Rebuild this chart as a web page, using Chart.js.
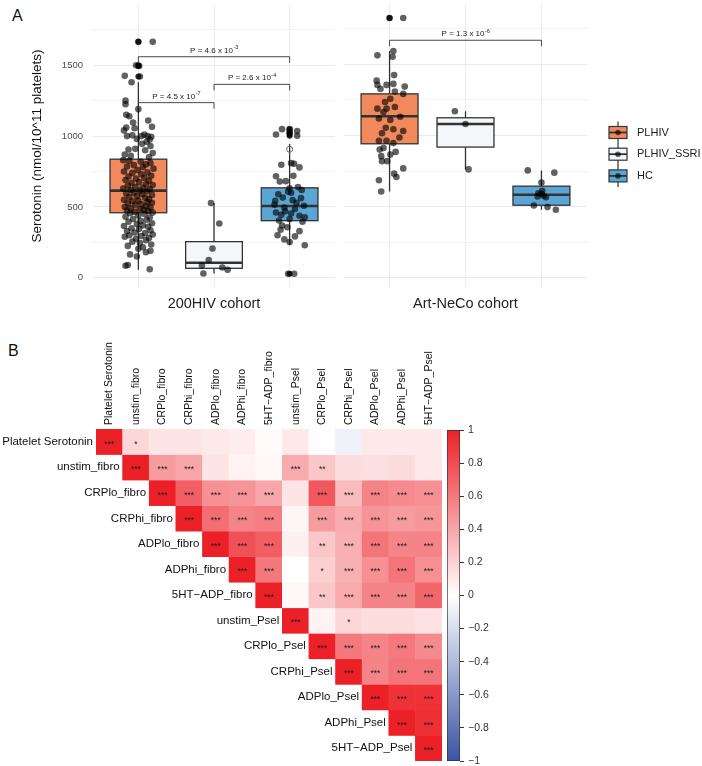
<!DOCTYPE html>
<html>
<head>
<meta charset="utf-8">
<script src="https://cdn.jsdelivr.net/npm/chart.js@4.4.1/dist/chart.umd.min.js"></script>
<style>
    body { margin: 0; background: #fff; font-family: 'Liberation Sans', Arial, Helvetica, sans-serif; }
    #wrap { position: relative; width: 702px; height: 766px; overflow: hidden; }
    canvas { position: absolute; }
    .panel { position: absolute; font-size: 16px; line-height: 16px; color: #111; }
</style>
</head>
<body>
<div id="wrap">
    <div class="panel" style="left:12px;top:8px">A</div>
    <div class="panel" style="left:8px;top:343px">B</div>
    <canvas id="boxA1" width="340" height="320" style="left:0;top:0"></canvas>
    <canvas id="boxA2" width="362" height="320" style="left:340px;top:0"></canvas>
    <canvas id="heat" width="445" height="436" style="left:0;top:330px"></canvas>
    <canvas id="cbar" width="80" height="440" style="left:440px;top:330px"></canvas>
</div>
<script>
// ---------- Panel A data ----------
const groupNames = ['PLHIV', 'PLHIV_SSRI', 'HC'];
const groupColors = ['#F1895C', '#F4F6FA', '#5BA5D5'];
const cohortNames = ['200HIV cohort', 'Art-NeCo cohort'];
const yMajorTicks = [0, 500, 1000, 1500];
const yMinorTicks = [250, 750, 1250, 1750];

// [lower whisker, Q1, median, Q3, upper whisker] for PLHIV, PLHIV_SSRI, HC
const hiv200Stats = [[57, 459, 615, 837, 1380], [30, 67, 106, 255, 528], [230, 403, 507, 635, 944]];
const artNecoStats = [[607, 942, 1136, 1293, 1594], [762, 919, 1081, 1125, 1171], [478, 510, 584, 644, 755]];

// jittered points: [offset from group centre, serotonin]
const hiv200Plhiv = [
    [0.00,1665],[0.19,1665],[-0.03,1500],[0.01,1495],[0.02,1420],[-0.18,1425],[-0.09,1380],
    [0.00,1190],[-0.17,1250],[-0.17,1225],[-0.16,1150],[-0.12,1140],[0.13,1110],[0.18,1065],
    [-0.07,1095],[-0.16,1060],[-0.05,1055],[-0.19,1040],[0.08,1010],[0.04,1000],[0.12,1000],
    [0.17,995],[-0.15,1000],[-0.08,1005],[0.15,975],[0.11,960],[-0.02,980],[0.05,945],[0.16,930],
    [-0.13,905],[-0.04,910],[0.09,900],[0.19,880],[-0.18,870],[-0.10,860],[0.14,850],
    [-0.20,830],[-0.12,825],[0.03,820],[0.16,810],[0.10,800],[-0.06,795],[-0.15,785],[0.06,780],
    [0.20,770],[-0.01,760],[-0.19,750],[0.12,745],[-0.08,740],[0.04,730],[0.17,720],[-0.13,715],
    [0.08,705],[-0.03,700],[-0.17,690],[0.14,685],[0.01,675],[-0.09,670],[0.10,660],[0.19,655],
    [-0.14,650],[-0.04,640],[0.06,635],[-0.20,630],[0.15,625],[-0.10,620],[0.02,615],
    [0.11,610],[-0.06,600],[-0.16,595],[0.05,590],[0.18,585],[-0.02,575],[-0.12,570],[0.09,565],
    [0.14,555],[-0.19,550],[0.00,545],[-0.08,540],[0.12,535],[0.18,530],[-0.14,525],[0.04,520],
    [-0.04,515],[0.10,505],[-0.18,500],[0.16,495],[-0.10,490],[0.02,485],[0.07,480],[-0.15,475],
    [0.13,470],[-0.05,465],[0.19,460],
    [-0.11,455],[0.08,450],[0.00,440],[-0.17,430],[0.15,425],[-0.07,415],[0.11,410],[0.03,400],
    [-0.13,395],[0.18,385],[-0.02,380],[0.06,370],[-0.19,365],[0.13,360],[-0.09,350],[0.01,345],
    [0.16,335],[-0.15,330],[-0.05,320],[0.09,315],[0.19,305],[-0.12,300],[0.04,295],[-0.18,290],
    [0.14,280],[-0.03,275],[0.10,265],[-0.08,255],[0.02,245],[0.17,235],[-0.14,225],[0.06,215],
    [0.00,205],[0.16,190],[0.10,180],[-0.11,165],[-0.02,150],[-0.17,85],[-0.14,90],[0.15,60]
];
const hiv200Ssri = [[-0.04,528],[0.07,383],[-0.02,206],[-0.07,126],[-0.16,87],[0.11,73],[0.18,57],[-0.14,30]];
const hiv200Hc = [
    [-0.10,1049],[0.00,1049],[0.00,1025],[0.10,1035],[-0.18,1011],[0.10,1002],
    [-0.11,798],[0.02,809],[0.06,805],[0.13,779],[-0.18,717],[-0.05,682],[0.05,720],[-0.13,680],
    [0.11,640],[0.00,631],[0.16,620],[-0.02,608],[0.02,600],[-0.15,590],[-0.19,543],[0.15,562],
    [-0.09,566],[0.04,548],[0.09,530],[-0.20,515],[0.19,508],[-0.07,496],[0.07,485],[-0.06,470],
    [-0.18,461],[-0.11,445],[0.02,454],[0.13,438],[0.20,427],[-0.14,404],[0.00,415],[0.17,395],
    [-0.10,369],[-0.03,357],[-0.12,339],[0.13,329],[-0.16,300],[0.07,292],[-0.07,271],[0.00,253],
    [0.20,230],[-0.02,28],[0.06,28]
];
const artNecoPlhiv = [
    [0.00,1827],[0.18,1827],[0.05,1594],[-0.16,1564],[0.04,1554],[0.06,1425],[-0.17,1386],
    [-0.16,1356],[-0.04,1356],[0.05,1363],[0.20,1344],[-0.12,1328],[0.07,1310],[0.18,1293],
    [0.01,1259],[-0.06,1236],[-0.16,1189],[-0.04,1189],[0.07,1201],[-0.08,1166],[0.14,1132],
    [-0.14,1120],[0.01,1109],[-0.05,1055],[0.05,1044],[0.18,1032],[-0.10,1016],[0.13,986],
    [-0.14,963],[-0.04,963],[0.05,947],[-0.08,912],[-0.13,901],[0.08,885],[0.01,866],[-0.11,855],
    [-0.10,820],[-0.03,820],[0.18,769],[0.06,732],[0.09,709],[-0.14,686],[-0.11,607]
];
const artNecoSsri = [[-0.14,1171],[0.00,1081],[0.04,762]];
const artNecoHc = [
    [-0.18,755],[0.17,739],[0.00,670],[0.01,612],[0.00,590],[-0.04,594],[0.03,577],[-0.05,572],
    [0.06,566],[-0.10,508],[0.08,497],[0.19,478]
];

// boxplot outliers: [group, value]
const hiv200Outliers = [[1,1665],[1,1500],[1,1495],[1,1420],[3,1049],[3,1025],[3,1011],[3,1002],[3,28]];
const hiv200Open = [[3, 907]];
const artNecoOutliers = [[1, 1827]];

// comparisons: groups, bracket height, p value as mantissa / exponent
const hiv200Pairs = [[1, 2], [2, 3], [1, 3]];
const hiv200PairY = [1236, 1365, 1560];
const hiv200PMant = ['4.5', '2.6', '4.6'];
const hiv200PExp = ['-7', '-4', '-3'];
const artNecoPairs = [[1, 3]];
const artNecoPairY = [1670];
const artNecoPMant = ['1.3'];
const artNecoPExp = ['-6'];

// ---------- Panel B data ----------
const varNames = ['Platelet Serotonin', 'unstim_fibro', 'CRPlo_fibro', 'CRPhi_fibro', 'ADPlo_fibro',
    'ADPhi_fibro', '5HT\u2212ADP_fibro', 'unstim_Psel', 'CRPlo_Psel', 'CRPhi_Psel', 'ADPlo_Psel',
    'ADPhi_Psel', '5HT\u2212ADP_Psel'];
// upper triangle, each row starts at the diagonal
const corrRows = [
    [1, 0.18, 0.12, 0.12, 0.10, 0.08, 0.02, 0.10, 0.01, -0.08, 0.10, 0.10, 0.10],
    [1, 0.45, 0.40, 0.12, 0.06, 0.03, 0.38, 0.25, 0.15, 0.14, 0.16, 0.10],
    [1, 0.72, 0.50, 0.48, 0.40, 0.12, 0.75, 0.30, 0.55, 0.52, 0.50],
    [1, 0.65, 0.55, 0.58, 0.04, 0.45, 0.37, 0.48, 0.45, 0.47],
    [1, 0.78, 0.72, 0.07, 0.25, 0.35, 0.62, 0.55, 0.55],
    [1, 0.60, 0.00, 0.22, 0.35, 0.50, 0.62, 0.50],
    [1, 0.03, 0.25, 0.38, 0.55, 0.55, 0.68],
    [1, 0.06, 0.18, 0.15, 0.15, 0.13],
    [1, 0.60, 0.55, 0.60, 0.52],
    [1, 0.55, 0.62, 0.62],
    [1, 0.92, 0.92],
    [1, 0.93],
    [1]
];
const starRows = [
    ['***', '*', '', '', '', '', '', '', '', '', '', '', ''],
    ['***', '***', '***', '', '', '', '***', '**', '', '', '', ''],
    ['***', '***', '***', '***', '***', '', '***', '***', '***', '***', '***'],
    ['***', '***', '***', '***', '', '***', '***', '***', '***', '***'],
    ['***', '***', '***', '', '**', '***', '***', '***', '***'],
    ['***', '***', '', '*', '***', '***', '***', '***'],
    ['***', '', '**', '***', '***', '***', '***'],
    ['***', '', '*', '', '', ''],
    ['***', '***', '***', '***', '***'],
    ['***', '***', '***', '***'],
    ['***', '***', '***'],
    ['***', '***'],
    ['***']
];
const colorbarTicks = [-1, -0.8, -0.6, -0.4, -0.2, 0, 0.2, 0.4, 0.6, 0.8, 1];

// ---------- common ----------
const fontFamily = "'Liberation Sans', Arial, Helvetica, sans-serif";
Chart.defaults.font.family = fontFamily;
Chart.defaults.animation = false;
Chart.defaults.events = [];
Chart.defaults.plugins.legend.display = false;
Chart.defaults.plugins.tooltip.enabled = false;

const yMin = -65, yMax = 1925;
const boxWidth = 0.75;
const pointFill = 'rgba(0,0,0,0.62)';

const boxPlugin = {
    /*
        Draws the boxes and whiskers under the jittered points
    */
    id: 'boxes',
    beforeDatasetsDraw: (chart, args, opts) => {
        const ctx = chart.ctx;
        const xs = chart.scales.x, ys = chart.scales.y;
        opts.stats.forEach((s, i) => {
            const cx = xs.getPixelForValue(i + 1);
            const hw = xs.getPixelForValue(i + 1 + boxWidth / 2) - cx;
            const [lo, q1, med, q3, hi] = s.map(v => ys.getPixelForValue(v));
            ctx.save();
            ctx.strokeStyle = '#333';
            ctx.lineWidth = 1.3;
            ctx.beginPath();
            ctx.moveTo(cx, hi); ctx.lineTo(cx, q3);
            ctx.moveTo(cx, q1); ctx.lineTo(cx, lo);
            ctx.stroke();
            ctx.fillStyle = groupColors[i];
            ctx.fillRect(cx - hw, q3, 2 * hw, q1 - q3);
            ctx.strokeRect(cx - hw, q3, 2 * hw, q1 - q3);
            ctx.lineWidth = 2.6;
            ctx.beginPath();
            ctx.moveTo(cx - hw, med); ctx.lineTo(cx + hw, med);
            ctx.stroke();
            ctx.restore();
        });
    }
};

const bracketPlugin = {
    /*
        Significance brackets with p values above them
    */
    id: 'brackets',
    afterDatasetsDraw: (chart, args, opts) => {
        const ctx = chart.ctx;
        const xs = chart.scales.x, ys = chart.scales.y;
        opts.pairs.forEach((p, i) => {
            const x1 = xs.getPixelForValue(p[0]);
            const x2 = xs.getPixelForValue(p[1]);
            const yy = ys.getPixelForValue(opts.heights[i]);
            ctx.save();
            ctx.strokeStyle = '#333';
            ctx.lineWidth = 0.9;
            ctx.beginPath();
            ctx.moveTo(x1, yy + 6); ctx.lineTo(x1, yy); ctx.lineTo(x2, yy); ctx.lineTo(x2, yy + 6);
            ctx.stroke();
            const base = 'P = ' + opts.mant[i] + ' x 10';
            ctx.font = '8px ' + fontFamily;
            const wBase = ctx.measureText(base).width;
            ctx.font = '5.5px ' + fontFamily;
            const wExp = ctx.measureText(opts.exp[i]).width;
            const start = (x1 + x2) / 2 - (wBase + wExp) / 2;
            ctx.fillStyle = '#222';
            ctx.textBaseline = 'alphabetic';
            ctx.textAlign = 'left';
            ctx.font = '8px ' + fontFamily;
            ctx.fillText(base, start, yy - 4);
            ctx.font = '5.5px ' + fontFamily;
            ctx.fillText(opts.exp[i], start + wBase + 0.5, yy - 7.5);
            ctx.restore();
        });
    }
};

const legendPlugin = {
    /*
        ggplot style legend keys: box, median, whisker and a point
    */
    id: 'boxLegend',
    afterDraw: (chart, args, opts) => {
        const ctx = chart.ctx;
        groupNames.forEach((name, i) => {
            const cy = opts.top + i * 21.7;
            const left = opts.left, w = 18;
            const cx = left + w / 2;
            ctx.save();
            ctx.strokeStyle = '#333';
            ctx.lineWidth = 1.2;
            ctx.beginPath();
            ctx.moveTo(cx, cy - 11); ctx.lineTo(cx, cy + 11);
            ctx.stroke();
            ctx.fillStyle = groupColors[i];
            ctx.fillRect(left, cy - 6, w, 12);
            ctx.strokeRect(left, cy - 6, w, 12);
            ctx.lineWidth = 1.8;
            ctx.beginPath();
            ctx.moveTo(left, cy); ctx.lineTo(left + w, cy);
            ctx.stroke();
            ctx.fillStyle = pointFill;
            ctx.beginPath();
            ctx.arc(cx, cy, 2.8, 0, Math.PI * 2);
            ctx.fill();
            ctx.fillStyle = '#222';
            ctx.font = '11px ' + fontFamily;
            ctx.textBaseline = 'middle';
            ctx.fillText(name, left + 28, cy);
            ctx.restore();
        });
    }
};

const toPoints = (sets) => {
    // turns [offset, value] lists into scatter points around group positions 1,2,3
    const out = [];
    sets.forEach((set, g) => {
        set.forEach(p => out.push({x: g + 1 + p[0], y: p[1]}));
    });
    return out;
};

const makeBoxChart = (id, cfg) => {
    const plugins = [boxPlugin, bracketPlugin];
    if (cfg.legend) plugins.push(legendPlugin);
    return new Chart(id, {
        type: 'scatter',
        data: {
            datasets: [
                {   // jittered observations
                    data: toPoints(cfg.points),
                    backgroundColor: pointFill,
                    borderWidth: 0,
                    pointRadius: 3.3
                },
                {   // open outlier marker
                    data: cfg.open.map(p => ({x: p[0], y: p[1]})),
                    backgroundColor: 'rgba(255,255,255,0)',
                    borderColor: '#666',
                    borderWidth: 1,
                    pointRadius: 3
                },
                {   // boxplot outliers
                    data: cfg.outliers.map(p => ({x: p[0], y: p[1]})),
                    backgroundColor: 'rgba(0,0,0,0.8)',
                    borderWidth: 0,
                    pointRadius: 3
                }
            ]
        },
        options: {
            responsive: false,
            layout: {padding: {top: 1, right: cfg.padRight, left: 0, bottom: 0}},
            scales: {
                x: {
                    type: 'linear',
                    min: 0.4,
                    max: 3.6,
                    afterBuildTicks: (s) => { s.ticks = [1, 2, 3].map(v => ({value: v})); },
                    ticks: {display: false},
                    grid: {color: '#EBEBEB', drawTicks: false},
                    border: {display: false},
                    title: {
                        display: true,
                        text: cfg.title,
                        font: {size: 14.5},
                        color: '#222',
                        padding: {top: 0, bottom: 7.3}
                    },
                    afterFit: (s) => { s.height = 33; s.paddingLeft = 0; s.paddingRight = 0; }
                },
                yMinor: {
                    // minor grid lines only
                    type: 'linear',
                    position: 'left',
                    min: yMin,
                    max: yMax,
                    afterBuildTicks: (s) => { s.ticks = yMinorTicks.map(v => ({value: v})); },
                    ticks: {display: false},
                    grid: {drawTicks: false, color: '#F3F3F3'},
                    border: {display: false},
                    afterFit: (s) => { s.width = 0; s.paddingTop = 0; s.paddingBottom = 0; }
                },
                y: {
                    type: 'linear',
                    position: 'left',
                    min: yMin,
                    max: yMax,
                    afterBuildTicks: (s) => { s.ticks = yMajorTicks.map(v => ({value: v})); },
                    ticks: {
                        display: cfg.yTicks,
                        padding: 10,
                        color: '#4D4D4D',
                        font: {size: 9.5},
                        format: {useGrouping: false}
                    },
                    grid: {drawTicks: false, color: '#E9E9E9'},
                    border: {display: false},
                    title: {
                        display: cfg.yTicks,
                        text: 'Serotonin (nmol/10^11 platelets)',
                        font: {size: 13.5},
                        color: '#111',
                        padding: {top: 29, bottom: 0}
                    },
                    afterFit: (s) => { s.width = cfg.yWidth; s.paddingTop = 0; s.paddingBottom = 0; }
                }
            },
            plugins: {
                boxes: {stats: cfg.stats},
                brackets: {pairs: cfg.pairs, heights: cfg.pairY, mant: cfg.mant, exp: cfg.exp},
                boxLegend: {left: 269, top: 132.5}
            }
        },
        plugins: plugins
    });
};

makeBoxChart('boxA1', {
    title: cohortNames[0],
    stats: hiv200Stats,
    points: [hiv200Plhiv, hiv200Ssri, hiv200Hc],
    outliers: hiv200Outliers,
    open: hiv200Open,
    pairs: hiv200Pairs, pairY: hiv200PairY, mant: hiv200PMant, exp: hiv200PExp,
    yTicks: true, yWidth: 93, padRight: 3, legend: false
});
makeBoxChart('boxA2', {
    title: cohortNames[1],
    stats: artNecoStats,
    points: [artNecoPlhiv, artNecoSsri, artNecoHc],
    outliers: artNecoOutliers,
    open: [],
    pairs: artNecoPairs, pairY: artNecoPairY, mant: artNecoPMant, exp: artNecoPExp,
    yTicks: false, yWidth: 3, padRight: 115, legend: true
});

// ---------- Panel B: correlation heatmap ----------
const corrColor = (v) => {
    // white at 0, red at +1, blue at -1
    const end = v >= 0 ? [236, 32, 39] : [57, 83, 164];
    const t = Math.min(1, Math.abs(v));
    const c = end.map(e => Math.round(255 + (e - 255) * t));
    return 'rgb(' + c.join(',') + ')';
};

const heatDatasets = varNames.map((_, i) => ({
    data: varNames.map((__, j) => (j >= i ? [i, i + 1] : null)),
    backgroundColor: varNames.map((__, j) => (j >= i ? corrColor(corrRows[i][j - i]) : 'rgba(0,0,0,0)')),
    borderWidth: 0,
    grouped: false,
    barPercentage: 1,
    categoryPercentage: 1
}));

const heatLabelPlugin = {
    /*
        Column names on top, row names beside the diagonal, significance stars in cells
    */
    id: 'heatLabels',
    afterDatasetsDraw: (chart) => {
        const ctx = chart.ctx;
        const xs = chart.scales.x, ys = chart.scales.y;
        const area = chart.chartArea;
        const cellW = (area.right - area.left) / varNames.length;
        ctx.save();
        ctx.fillStyle = '#111';
        // column labels
        ctx.font = '10.5px ' + fontFamily;
        ctx.textAlign = 'left';
        ctx.textBaseline = 'middle';
        varNames.forEach((name, j) => {
            ctx.save();
            ctx.translate(xs.getPixelForValue(j), area.top - 4);
            ctx.rotate(-Math.PI / 2);
            ctx.fillText(name, 0, 0);
            ctx.restore();
        });
        // row labels
        ctx.font = '11.5px ' + fontFamily;
        ctx.textAlign = 'right';
        varNames.forEach((name, i) => {
            ctx.fillText(name, xs.getPixelForValue(i) - cellW / 2 - 3, ys.getPixelForValue(i + 0.5));
        });
        // stars
        ctx.font = '8.5px ' + fontFamily;
        ctx.textAlign = 'center';
        ctx.fillStyle = '#1A1A1A';
        starRows.forEach((row, i) => {
            row.forEach((s, k) => {
                if (s) ctx.fillText(s, xs.getPixelForValue(i + k), ys.getPixelForValue(i + 0.5) + 2.5);
            });
        });
        ctx.restore();
    }
};

new Chart('heat', {
    type: 'bar',
    data: {labels: varNames, datasets: heatDatasets},
    options: {
        responsive: false,
        layout: {padding: {left: 96, right: 3, top: 99, bottom: 5}},
        scales: {
            x: {display: false},
            y: {display: false, min: 0, max: varNames.length, reverse: true}
        }
    },
    plugins: [heatLabelPlugin]
});

// colour bar
const barGradient = (c) => {
    const chart = c.chart;
    const area = chart.chartArea;
    if (!area) return null;
    const g = chart.ctx.createLinearGradient(0, area.bottom, 0, area.top);
    colorbarTicks.forEach(v => g.addColorStop((v + 1) / 2, corrColor(v)));
    return g;
};

new Chart('cbar', {
    type: 'bar',
    data: {
        labels: ['r'],
        datasets: [{
            data: [[-1, 1]],
            backgroundColor: barGradient,
            borderColor: '#333',
            borderWidth: 1,
            borderSkipped: false,
            barPercentage: 1,
            categoryPercentage: 1
        }]
    },
    options: {
        responsive: false,
        layout: {padding: {left: 7, top: 100, bottom: 9, right: 0}},
        scales: {
            x: {display: false},
            y: {
                position: 'right',
                min: -1,
                max: 1,
                afterBuildTicks: (s) => { s.ticks = colorbarTicks.map(v => ({value: v})); },
                ticks: {
                    padding: 4,
                    color: '#333',
                    font: {size: 10.5},
                    callback: (v) => String(Math.round(v * 10) / 10).replace('-', '\u2212')
                },
                grid: {drawOnChartArea: false, drawTicks: true, tickLength: 4, color: '#333'},
                border: {display: false},
                afterFit: (s) => { s.width = 60; s.paddingTop = 0; s.paddingBottom = 0; }
            }
        }
    }
});
</script>
</body>
</html>
